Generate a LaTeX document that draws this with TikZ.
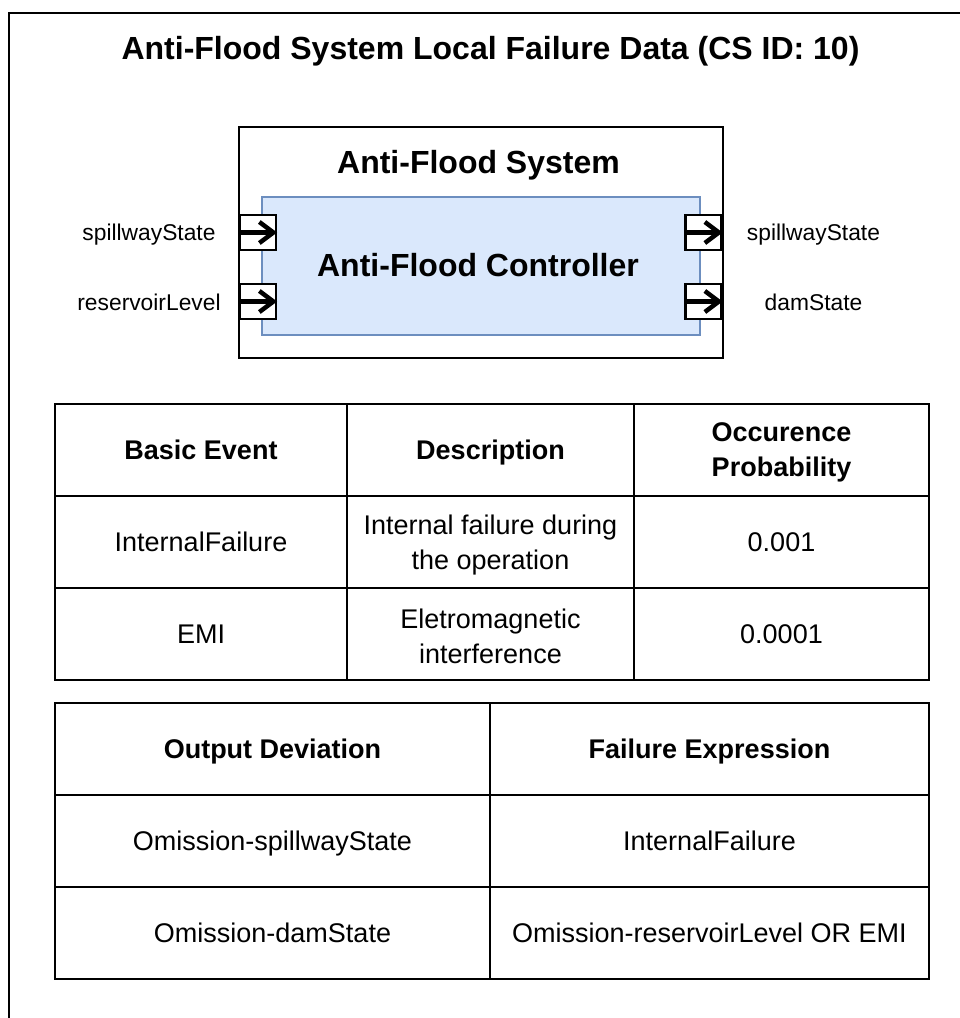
\documentclass[tikz,border=0pt]{standalone}
\usepackage{fontspec}
\setmainfont{Liberation Sans}
\usetikzlibrary{arrows.meta}
\definecolor{ctrlfill}{HTML}{DAE8FC}
\definecolor{ctrlstroke}{HTML}{6C8EBF}
\tikzset{
  frame/.style={draw=black, line width=2.5pt},
  sysbox/.style={draw=black, fill=white, line width=2.2pt, inner sep=0pt},
  ctrlbox/.style={draw=ctrlstroke, fill=ctrlfill, line width=2pt, inner sep=0pt},
  port/.style={draw=black, fill=white, line width=2.2pt, minimum width=36pt, minimum height=35pt, inner sep=0pt},
  portarrow/.style={line width=4.5pt, -{Straight Barb[length=14pt,width=21pt,line width=4.5pt]}},
  lbl/.style={font=\fontsize{22.8}{27}\selectfont, inner sep=0pt, anchor=base},
  big/.style={font=\fontsize{32}{38}\selectfont\bfseries, inner sep=0pt, anchor=base},
  cell/.style={font=\fontsize{27}{35}\selectfont, align=center, inner sep=0pt, anchor=base},
  head/.style={font=\fontsize{27}{35}\selectfont\bfseries, align=center, inner sep=0pt, anchor=base},
  twocell/.style={font=\fontsize{27}{35}\selectfont, align=center, inner sep=0pt},
  twohead/.style={font=\fontsize{27}{35}\selectfont\bfseries, align=center, inner sep=0pt},
  tbl/.style={draw=black, line width=2.2pt},
}
\begin{document}
\begin{tikzpicture}[x=1pt,y=-1pt]
\useasboundingbox (0,0) rectangle (960,1018);
\clip (0,0) rectangle (960,1018);
\fill[white] (0,0) rectangle (960,1018);
\draw[frame] (9,13) rectangle (990,1050);

\node[big] (title) at (490.5,59) {Anti-Flood System Local Failure Data (CS ID: 10)};

% system block
\node[sysbox, minimum width=484pt, minimum height=231pt] (sys) at (481,242.5) {};
\node[big] (syslabel) at (478.5,173) {Anti-Flood System};
\node[ctrlbox, minimum width=438pt, minimum height=138pt] (ctrl) at (481,266) {};
\node[big] (ctrllabel) at (478,276) {Anti-Flood Controller};

% ports
\node[port] (pin1) at (258,232.5) {};
\node[port] (pin2) at (258,301.5) {};
\node[port] (pout1) at (703.5,232.5) {};
\node[port] (pout2) at (703.5,301.5) {};
\draw[portarrow] (pin1.west) -- (pin1.east);
\draw[portarrow] (pin2.west) -- (pin2.east);
\draw[portarrow] (pout1.west) -- (pout1.east);
\draw[portarrow] (pout2.west) -- (pout2.east);

\node[lbl] (lin1) at (149,240) {spillwayState};
\node[lbl] (lin2) at (149,310) {reservoirLevel};
\node[lbl] (lout1) at (813.5,240) {spillwayState};
\node[lbl] (lout2) at (813.5,310) {damState};

% table 1
\draw[tbl] (55,404) rectangle (929,680);
\draw[tbl] (347,404) -- (347,680);
\draw[tbl] (634,404) -- (634,680);
\draw[tbl] (55,496) -- (929,496);
\draw[tbl] (55,588) -- (929,588);

\node[head] (h11) at (201,459.7) {Basic Event};
\node[head] (h12) at (490.5,459.7) {Description};
\node[twohead] (h13) at (781.5,452.7) {Occurence\\Probability};
\node[cell] (c11) at (201,551.7) {InternalFailure};
\node[twocell] (c12) at (490.5,544.7) {Internal failure during\\the operation};
\node[cell] (c13) at (781.5,551.7) {0.001};
\node[cell] (c21) at (201,643.7) {EMI};
\node[twocell] (c22) at (490.5,636.7) {Eletromagnetic\\interference};
\node[cell] (c23) at (781.5,643.7) {0.0001};

% table 2
\draw[tbl] (55,703) rectangle (929,979);
\draw[tbl] (490,703) -- (490,979);
\draw[tbl] (55,795) -- (929,795);
\draw[tbl] (55,887) -- (929,887);

\node[head] (h21) at (272.5,758.7) {Output Deviation};
\node[head] (h22) at (709.5,758.7) {Failure Expression};
\node[cell] (d11) at (272.5,850.7) {Omission-spillwayState};
\node[cell] (d12) at (709.5,850.7) {InternalFailure};
\node[cell] (d21) at (272.5,942.7) {Omission-damState};
\node[cell] (d22) at (709.5,942.7) {Omission-reservoirLevel OR EMI};
\end{tikzpicture}
\end{document}
